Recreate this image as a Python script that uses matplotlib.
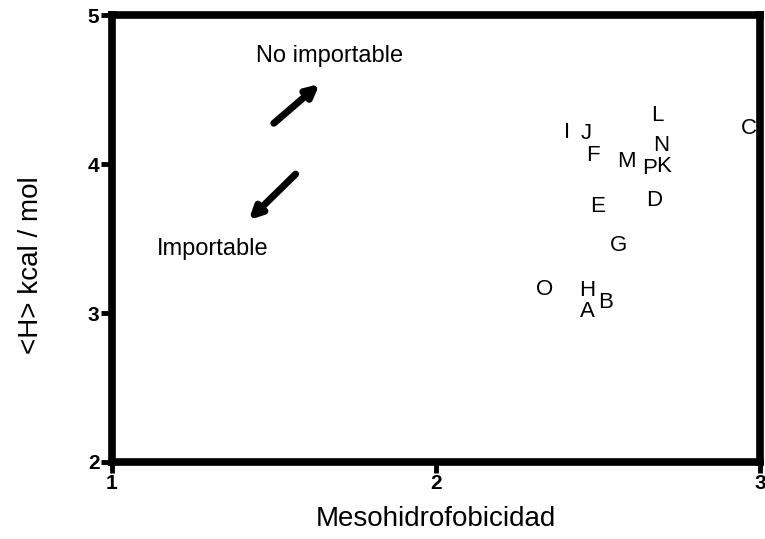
import matplotlib.pyplot as plt

plt.rcParams['font.family'] = ['Liberation Sans', 'DejaVu Sans']

# peptide labels and their coordinates
labels = ['I', 'J', 'L', 'C', 'N', 'F', 'M', 'P', 'K', 'D', 'E', 'G', 'O', 'H', 'B', 'A']
meso = [2.405, 2.464, 2.683, 2.966, 2.695, 2.485, 2.587, 2.658, 2.704,
        2.673, 2.498, 2.562, 2.334, 2.467, 2.522, 2.467]
h_kcal = [4.215, 4.208, 4.329, 4.242, 4.128, 4.060, 4.020, 3.973, 3.987,
          3.758, 3.718, 3.456, 3.161, 3.150, 3.074, 3.010]

fig = plt.figure(figsize=(7.65, 5.39), dpi=100)
ax = fig.add_axes([0.1464, 0.1429, 0.847, 0.829])

for lab, x, y in zip(labels, meso, h_kcal):
    ax.text(x, y, lab, ha='center', va='center', fontsize=16)

# direction arrows
ax.annotate('', xy=(1.647, 4.550), xytext=(1.493, 4.262),
            arrowprops=dict(arrowstyle='-|>', lw=5, color='black', mutation_scale=18))
ax.annotate('', xy=(1.416, 3.611), xytext=(1.573, 3.946),
            arrowprops=dict(arrowstyle='-|>', lw=5, color='black', mutation_scale=18))
ax.text(1.672, 4.725, 'No importable', ha='center', va='center', fontsize=17)
ax.text(1.311, 3.430, 'Importable', ha='center', va='center', fontsize=17)

ax.set_xlim(1, 3)
ax.set_ylim(2, 5)
ax.set_xticks([1, 2, 3])
ax.set_yticks([2, 3, 4, 5])
for s in ax.spines.values():
    s.set_linewidth(5.5)
ax.tick_params(direction='out', length=8, width=3.5, labelsize=15, pad=1)
for t in ax.get_xticklabels() + ax.get_yticklabels():
    t.set_fontweight('bold')

ax.set_xlabel('Mesohidrofobicidad', fontsize=20, labelpad=9)
ax.set_ylabel('<H> kcal / mol', fontsize=20)
ax.yaxis.set_label_coords(-0.105, 0.44)

fig.savefig('out.png', dpi=100)
